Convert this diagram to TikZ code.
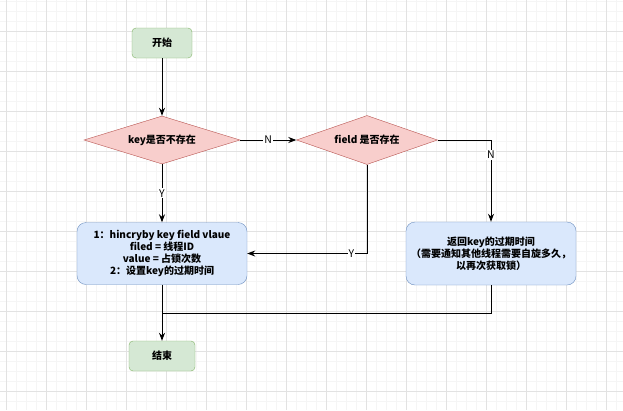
\documentclass[tikz,border=0pt]{standalone}
\usepackage{fontspec}
\setmainfont{Noto Sans CJK SC}
\usetikzlibrary{shapes.geometric,arrows.meta}
\definecolor{termfill}{HTML}{D5E8D4}
\definecolor{termline}{HTML}{82B366}
\definecolor{testfill}{HTML}{F8CECC}
\definecolor{testline}{HTML}{B85450}
\definecolor{workfill}{HTML}{DAE8FC}
\definecolor{workline}{HTML}{6C8EBF}
\definecolor{gridminor}{HTML}{F5F5F5}
\definecolor{gridmajor}{HTML}{E2E2E2}
\tikzset{
  terminal/.style={draw=termline, fill=termfill, rounded corners=4pt, minimum width=60pt, minimum height=30pt, font=\bfseries\fontsize{10}{12}\selectfont},
  test/.style={diamond, draw=testline, fill=testfill, aspect=3.2, inner sep=0pt, font=\bfseries\fontsize{10}{12}\selectfont},
  work/.style={draw=workline, fill=workfill, rounded corners=9pt, minimum width=170pt, minimum height=63pt, align=center, font=\bfseries\fontsize{10}{12}\selectfont},
  flow/.style={draw=black, line width=0.9pt, -{Stealth[length=8pt,width=6pt]}},
  link/.style={draw=black, line width=0.9pt},
  answer/.style={fill=white, inner sep=1pt, font=\fontsize{10.5}{12}\selectfont}
}
\begin{document}
\begin{tikzpicture}[x=1pt, y=-1pt, line join=miter]
  \useasboundingbox (0,0) rectangle (623,410);
  \fill[white] (0,0) rectangle (623,410);
  \foreach \gx in {0,...,62} \draw[gridminor, line width=0.6pt] (6.5+10*\gx,0) -- (6.5+10*\gx,410);
  \foreach \gy in {0,...,41} \draw[gridminor, line width=0.6pt] (0,1.5+10*\gy) -- (623,1.5+10*\gy);
  \foreach \gx in {0,...,15} \draw[gridmajor, line width=0.8pt] (6.5+40*\gx,0) -- (6.5+40*\gx,410);
  \foreach \gy in {0,...,9} \draw[gridmajor, line width=0.8pt] (0,31.5+40*\gy) -- (623,31.5+40*\gy);

  \node[terminal] (start) at (162,43) {开始};
  \node[test, minimum width=156pt, minimum height=48pt] (keytest) at (162,140) {key是否不存在};
  \node[test, minimum width=141pt, minimum height=49pt] (fieldtest) at (367,140) {field 是否存在};
  \node[work, minimum height=62pt] (setlock) at (162,253.5) {1：hincryby key field vlaue\\filed = 线程ID\\value = 占锁次数\\2：设置key的过期时间};
  \node[work] (ttl) at (491,253.5) {返回key的过期时间\\（需要通知其他线程需要自旋多久，\\以再次获取锁）};
  \node[terminal, minimum width=66pt] (stop) at (162,356) {结束};
  \coordinate (merge) at (162,313);

  \draw[flow] (start) -- (keytest);
  \draw[flow] (keytest) -- node[answer] {N} (fieldtest);
  \draw[flow] (keytest) -- node[answer] {Y} (setlock);
  \draw[flow] (fieldtest.east) -| node[answer, pos=0.59] {N} (ttl.north);
  \draw[flow] (fieldtest.south) |- node[answer, pos=0.565] {Y} (setlock.east);
  \draw[flow] (setlock) -- (stop);
  \draw[link] (ttl.south) |- (merge);
\end{tikzpicture}
\end{document}
